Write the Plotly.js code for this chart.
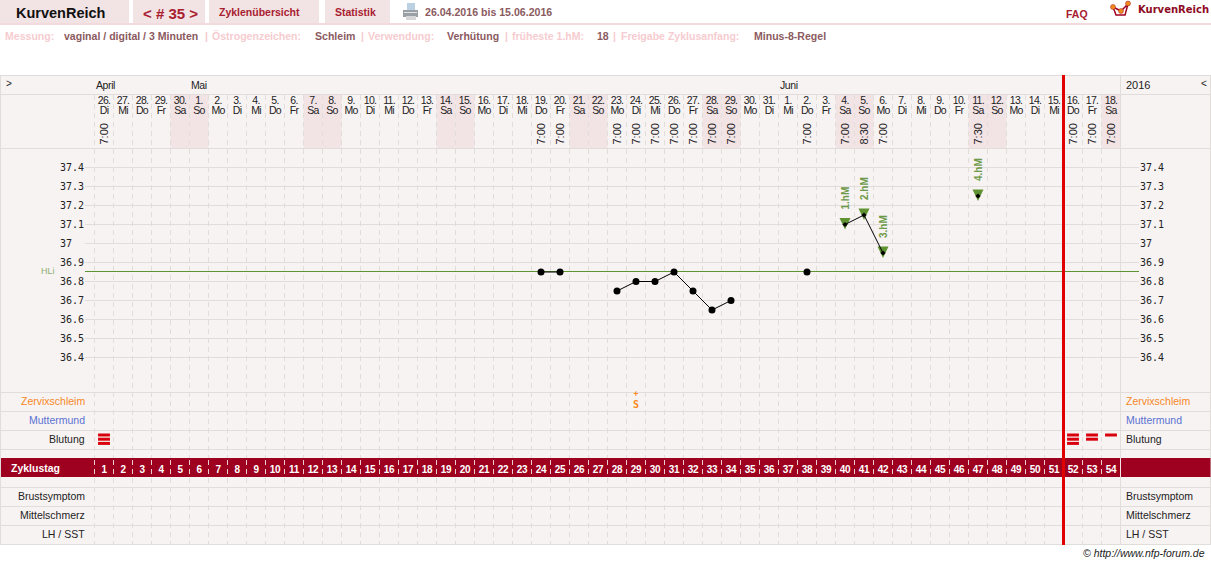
<!DOCTYPE html>
<html><head><meta charset="utf-8">
<script src="https://cdn.plot.ly/plotly-3.0.1.min.js"></script>
<style>html,body{margin:0;padding:0;background:#fff;overflow:hidden}#c{width:1211px;height:564px}
#c .x2tick text,#c .x3tick text{letter-spacing:-.7px}
#c .xtick text{letter-spacing:-.3px}
</style>
</head><body><div id="c"></div>
<script>
// ---------- data ----------
const cycleDays=[1,2,3,4,5,6,7,8,9,10,11,12,13,14,15,16,17,18,19,20,21,22,23,24,25,26,27,28,29,30,31,32,33,34,35,36,37,38,39,40,41,42,43,44,45,46,47,48,49,50,51,52,53,54];
const dateNums=["26.","27.","28.","29.","30.","1.","2.","3.","4.","5.","6.","7.","8.","9.","10.","11.","12.","13.","14.","15.","16.","17.","18.","19.","20.","21.","22.","23.","24.","25.","26.","27.","28.","29.","30.","31.","1.","2.","3.","4.","5.","6.","7.","8.","9.","10.","11.","12.","13.","14.","15.","16.","17.","18."];
const weekdays=["Di","Mi","Do","Fr","Sa","So","Mo","Di","Mi","Do","Fr","Sa","So","Mo","Di","Mi","Do","Fr","Sa","So","Mo","Di","Mi","Do","Fr","Sa","So","Mo","Di","Mi","Do","Fr","Sa","So","Mo","Di","Mi","Do","Fr","Sa","So","Mo","Di","Mi","Do","Fr","Sa","So","Mo","Di","Mi","Do","Fr","Sa"];
const timeDays=[1,24,25,28,29,30,31,32,33,34,38,40,41,42,47,52,53,54];
const timeVals=["7:00","7:00","7:00","7:00","7:00","7:00","7:00","7:00","7:00","7:00","7:00","7:00","8:30","7:00","7:30","7:00","7:00","7:00"];
const tempDays=[24,25,28,29,30,31,32,33,34,38,40,41,42,47];
const tempVals=[36.85,36.85,36.75,36.8,36.8,36.85,36.75,36.65,36.7,36.85,37.1,37.15,36.95,37.25];
const hmDays=[40,41,42,47];
const hmTemps=[37.1,37.15,36.95,37.25];
const hmLabels=["1.hM","2.hM","3.hM","4.hM"];
const tempTicks=[36.4,36.5,36.6,36.7,36.8,36.9,37,37.1,37.2,37.3,37.4];
const tempTickText=["36.4","36.5","36.6","36.7","36.8","36.9","37","37.1","37.2","37.3","37.4"];
const coverline=36.85;
const bleedDays=[1,52,53,54];
const bleedLevel=[3,3,2,1];
const mucusDays=[29];
const mucusText=["S"];
const mucusMod=["+"];
const cycleEndDay=51.5;
const months=[["April",95],["Mai",190],["Juni",779]];
const rowLabels=[["Zervixschleim",401,"#f5881f"],["Muttermund",420,"#5a72d2"],["Blutung",439,"#222"],["Brustsymptom",496,"#222"],["Mittelschmerz",515,"#222"],["LH / SST",534,"#222"]];

// ---------- geometry ----------
const W=1211,H=564;
const dx=px=>(px-104)/19+1;
const py=y=>1-y/H, pxf=x=>x/W;
const yTop=37.4+167.5/190, yBot=37.4-(H-167.5)/190;
const BG="#f8f3f3",LINE="#e0dddb",WEEK="#f2e3e5",CRIM="#9e0020",GREEN="#5f9230",TXT="#8b5a60",PALE="#f6ccd0";
const F="Liberation Sans, Arial, sans-serif", M="DejaVu Sans Mono, monospace";

const shapes=[],annotations=[];
const rect=(x0,y0,x1,y1,c,layer)=>shapes.push({type:"rect",xref:"paper",yref:"paper",x0:pxf(x0),x1:pxf(x1),y0:py(y0),y1:py(y1),fillcolor:c,line:{width:0},layer:layer||"below"});
const seg=(x0,y0,x1,y1,c,w,dash,layer)=>shapes.push({type:"line",xref:"paper",yref:"paper",x0:pxf(x0),x1:pxf(x1),y0:py(y0),y1:py(y1),line:{color:c,width:w||1,dash:dash||"solid"},layer:layer||"below"});
const label=(t,x,y,anchor,size,color,opts)=>annotations.push(Object.assign({text:t,xref:"paper",yref:"paper",x:pxf(x),y:py(y),xanchor:anchor,yanchor:"middle",showarrow:false,borderpad:0,font:{family:F,size:size,color:color}},opts||{}));
const B=t=>"<b>"+t+"</b>";
const tight=(t,s)=>'<span style="letter-spacing:'+s+'px">'+t+'</span>';

// header tabs
rect(0,0,129,23,WEEK);rect(133,0,205,23,WEEK);rect(209,0,319,23,WEEK);rect(325,0,390,23,WEEK);
rect(0,23,1211,25,"#f3dadd");
label(B("KurvenReich"),15,13,"left",14.5,"#111");
label(B("&lt; # 35 &gt;"),142,13,"left",15,"#a8202f");
label(B("Zyklenübersicht"),218,12,"left",10.5,"#a8202f");
label(B("Statistik"),334,12,"left",10.5,"#a8202f");
label(B("26.04.2016 bis 15.06.2016"),424,12,"left",10.6,TXT);
label(B("FAQ"),1065,14.5,"left",10.5,"#a8202f");
label(B("KurvenReich"),1137,10,"left",10,"#8e0a24",{font:{family:"DejaVu Sans",size:10,color:"#8e0a24"}});

// printer icon
rect(407,3,415,11,"#bcd0e4");rect(403,10,418,17,"#9aa0a6");rect(406,16,416,20,"#d4d6d8");seg(404,12.5,417,12.5,"#dfe2e5",1);
// logo
shapes.push({type:"path",xref:"paper",yref:"paper",layer:"above",path:`M ${pxf(1113)} ${py(7)} L ${pxf(1116)} ${py(15)} L ${pxf(1125)} ${py(15)} L ${pxf(1128)} ${py(4)} L ${pxf(1121)} ${py(11)} L ${pxf(1113)} ${py(7)}`,line:{color:"#9e0020",width:1.5}});
[[1113,7],[1121,11],[1128,3.5]].forEach(p=>shapes.push({type:"circle",xref:"paper",yref:"paper",layer:"above",x0:pxf(p[0]-2.5),x1:pxf(p[0]+2.5),y0:py(p[1]-2.5),y1:py(p[1]+2.5),fillcolor:"#f08a1c",line:{color:"#a8202f",width:.5}}));

// settings line
[["Messung:",4,PALE],["vaginal / digital / 3 Minuten",63,TXT],["|",204,PALE],["Östrogenzeichen:",211,PALE],["Schleim",314,TXT],["|",360,PALE],["Verwendung:",367,PALE],["Verhütung",446,TXT],["|",504,PALE],["früheste 1.hM:",511,PALE],["18",596,TXT],["|",612,PALE],["Freigabe Zyklusanfang:",620,PALE],["Minus-8-Regel",753,TXT]].forEach(a=>label(B(a[0]),a[1],36,"left",10.55,a[2]));

// chart panel
rect(1,75,1210,545,BG);
cycleDays.forEach((d,i)=>{ if(weekdays[i]==="Sa"||weekdays[i]==="So") shapes.push({type:"rect",xref:"x",yref:"paper",x0:d-.5,x1:d+.5,y0:py(94),y1:py(148),fillcolor:WEEK,line:{width:0},layer:"below"});});
[75,94,148,392.5,411.5,430.5,449.5,487.5,506.5,525.5,544.5].forEach(y=>seg(0.5,Math.floor(y)+.5,1210.5,Math.floor(y)+.5,LINE));
seg(0.5,75,0.5,545,LINE);seg(1210.5,75,1210.5,545,LINE);seg(1120.5,75,1120.5,545,LINE);
// temperature grid
tempTicks.forEach(t=>shapes.push({type:"line",xref:"paper",yref:"y",x0:pxf(85),x1:pxf(1139),y0:t,y1:t,line:{color:LINE,width:1},layer:"below"}));
// day separators
cycleDays.forEach(d=>{
  shapes.push({type:"line",xref:"x",yref:"paper",x0:d-.5,x1:d-.5,y0:py(95),y1:py(458),line:{color:LINE,width:1,dash:"5px,4px"},layer:"below"});
  shapes.push({type:"line",xref:"x",yref:"paper",x0:d-.5,x1:d-.5,y0:py(478),y1:py(545),line:{color:LINE,width:1,dash:"5px,4px"},layer:"below"});
});
// cycle band
rect(1,458,1210.5,477,CRIM);
cycleDays.forEach(d=>shapes.push({type:"line",xref:"x",yref:"paper",x0:d-.5,x1:d-.5,y0:py(460),y1:py(477),line:{color:"#e9cdd2",width:1,dash:"5px,4px"},layer:"below"}));
seg(1120.5,458,1120.5,477,"#f3e3e5");
// coverline, pixel-snapped around its data value
shapes.push({type:"line",xref:"paper",yref:"y",ysizemode:"pixel",yanchor:coverline,x0:pxf(85),x1:pxf(1139),y0:.5,y1:.5,line:{color:GREEN,width:1},layer:"below"});
// hM triangles anchored on data
hmDays.forEach((d,i)=>shapes.push({type:"path",xsizemode:"pixel",ysizemode:"pixel",xref:"x",yref:"y",xanchor:d,yanchor:hmTemps[i],path:"M-5.5,6.5L5.5,6.5L0,-5Z",fillcolor:GREEN,line:{width:0},layer:"below"}));
// cycle end line
shapes.push({type:"line",xref:"x",yref:"paper",x0:cycleEndDay,x1:cycleEndDay,y0:py(75),y1:py(545),line:{color:"#e00000",width:3},layer:"above"});

// texts in chart
months.forEach(m=>label(tight(m[0],-.4),m[1],85,"left",10.5,"#222"));
label("&gt;",5,83,"left",10,"#222");label("&lt;",1200,83,"left",10,"#222");
label("2016",1124.5,85,"left",11,"#222");
rowLabels.forEach(r=>{label(r[0],86,r[1],"right",10.5,r[2]);label(r[0],1124.5,r[1],"left",10.5,r[2]);});
label("HLi",40,270.5,"left",9,"#8fae72");
label(B("Zyklustag"),10,468,"left",10.5,"#fff");
label("<i>© http://www.nfp-forum.de</i>",1206,553,"right",10.5,"#222");
timeDays.forEach((d,i)=>annotations.push({text:timeVals[i],xref:"x",yref:"paper",x:d,y:py(134.5),xanchor:"center",yanchor:"middle",textangle:-90,showarrow:false,borderpad:0,font:{family:F,size:11,color:"#222"}}));
hmDays.forEach((d,i)=>annotations.push({text:B(hmLabels[i]),xref:"x",yref:"y",x:d,y:hmTemps[i],xanchor:"center",yanchor:"middle",yshift:26,textangle:-90,showarrow:false,borderpad:0,font:{family:F,size:10,color:"#6c9a48"}}));

// ---------- traces ----------
const lx=[],ly=[];
tempDays.forEach((d,i)=>{if(i&&d-tempDays[i-1]>1){lx.push(null);ly.push(null);}lx.push(d);ly.push(tempVals[i]);});
const isHm=d=>hmDays.includes(d);
const traces=[
 {x:lx,y:ly,mode:"lines",line:{color:"#000",width:1},hoverinfo:"skip",connectgaps:false},
 {x:tempDays.filter(d=>!isHm(d)),y:tempVals.filter((v,i)=>!isHm(tempDays[i])),mode:"markers",marker:{color:"#000",size:7},hoverinfo:"x+y"},
 {x:hmDays,y:hmTemps,mode:"markers",marker:{color:"#000",size:4,symbol:"diamond"},hoverinfo:"x+y"},
];
// axis-only carriers so overlaying axes are built
traces.push({x:[1],y:[37],xaxis:"x2",yaxis:"y2",mode:"markers",marker:{opacity:0},hoverinfo:"skip"});
traces.push({x:[1],y:[37],xaxis:"x3",yaxis:"y",mode:"markers",marker:{opacity:0},hoverinfo:"skip"});
// bleeding: one bar per level, on the row axis
const bx=[],by=[];
bleedDays.forEach((d,i)=>{for(let k=0;k<bleedLevel[i];k++){bx.push(d);by.push(435+k*4.2);}});
traces.push({x:bx,y:by,yaxis:"y3",mode:"markers",marker:{symbol:"line-ew",size:8.5,line:{color:"#d9000d",width:3}},hoverinfo:"skip"});
traces.push({x:mucusDays,y:mucusDays.map(()=>405),yaxis:"y3",mode:"text",text:mucusText,textposition:"middle center",textfont:{family:M,size:10,color:"#f5881f",weight:"bold"},hoverinfo:"skip"});
traces.push({x:mucusDays,y:mucusDays.map(()=>394),yaxis:"y3",mode:"text",text:mucusMod,textposition:"middle center",textfont:{family:M,size:8,color:"#f5881f",weight:"bold"},hoverinfo:"skip"});

const xr=[dx(0),dx(W)];
const xCommon={range:xr,showgrid:false,zeroline:false,showline:false,ticks:"",tickmode:"array",tickvals:cycleDays,automargin:false,fixedrange:true};
const layout={
 width:W,height:H,margin:{l:0,r:0,t:0,b:0,pad:0},paper_bgcolor:"#fff",plot_bgcolor:"rgba(0,0,0,0)",showlegend:false,hovermode:"closest",
 font:{family:F},shapes,annotations,
 xaxis:Object.assign({},xCommon,{ticktext:cycleDays.map(String),side:"bottom",anchor:"free",position:py(462),tickfont:{family:F,size:10,color:"#fff",weight:"bold"}}),
 xaxis2:Object.assign({},xCommon,{overlaying:"x",ticktext:dateNums,side:"top",anchor:"free",position:py(106.5),tickfont:{family:F,size:10.5,color:"#222"}}),
 xaxis3:Object.assign({},xCommon,{overlaying:"x",ticktext:weekdays,side:"top",anchor:"free",position:py(116.5),tickfont:{family:F,size:10.5,color:"#222"}}),
 yaxis:{range:[yBot,yTop],showgrid:false,zeroline:false,showline:false,ticks:"",tickmode:"array",tickvals:tempTicks,ticktext:tempTickText,anchor:"free",position:pxf(56),side:"left",ticklabelposition:"inside",tickfont:{family:M,size:10,color:"#222"},automargin:false,fixedrange:true},
 yaxis2:{range:[yBot,yTop],overlaying:"y",showgrid:false,zeroline:false,showline:false,ticks:"",tickmode:"array",tickvals:tempTicks,ticktext:tempTickText,anchor:"free",position:pxf(1139),side:"right",tickfont:{family:M,size:10,color:"#222"},automargin:false,fixedrange:true},
 yaxis3:{range:[H,0],overlaying:"y",visible:false,fixedrange:true}
};
Plotly.newPlot("c",traces,layout,{displayModeBar:false});
</script></body></html>
